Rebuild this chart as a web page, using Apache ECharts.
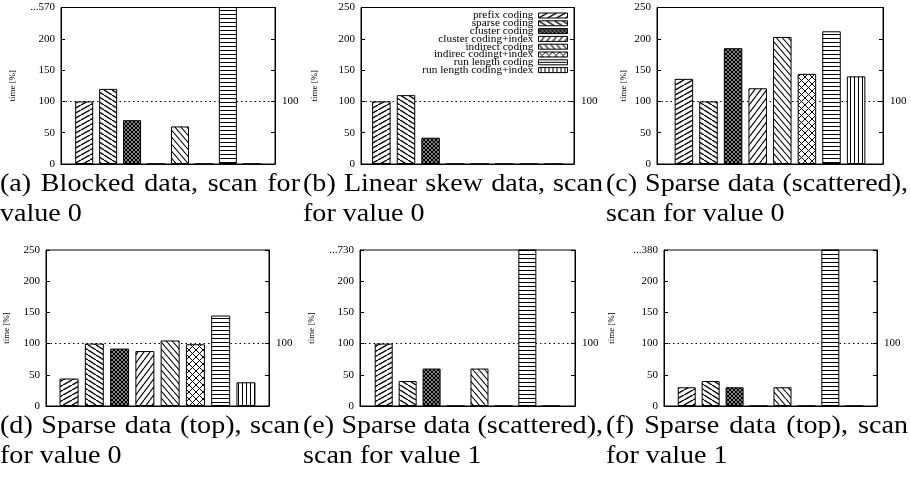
<!DOCTYPE html>
<html>
<head>
<meta charset="utf-8">
<script src="https://cdn.jsdelivr.net/npm/echarts@6/dist/echarts.min.js"></script>
<style>
  html, body { margin: 0; padding: 0; background: #fff; }
  #chart { width: 911px; height: 477px; }
</style>
</head>
<body>
<div id="chart"></div>
<script>
// series (one per coding scheme, same order in every panel)
const seriesNames = [
  'prefix coding', 'sparse coding', 'cluster coding', 'cluster coding+index',
  'indirect coding', 'indirec codingt+index', 'run length coding', 'run length coding+index'
];

// values per panel, time in % (bars above 250 are cut at the top)
const valuesA = [100, 120, 70, 0, 60, 0, 570, 0];
const valuesB = [100, 110, 42, 0, 0, 0, 0, 0];
const valuesC = [136, 100, 185, 121, 203, 144, 212, 140];
const valuesD = [44, 100, 92, 88, 105, 99, 145, 38];
const valuesE = [100, 40, 60, 0, 60, 0, 730, 0];
const valuesF = [30, 40, 30, 0, 30, 0, 380, 0];

// top tick label per panel (clipped maximum)
const topLabels = ['...570', '250', '250', '250', '...730', '...380'];
const refValue = 100;
const yMax = 250;
const yStep = 50;

const captions = [
  ['(a) Blocked data, scan for', 'value 0'],
  ['(b) Linear skew data, scan', 'for value 0'],
  ['(c) Sparse data (scattered),', 'scan for value 0'],
  ['(d) Sparse data (top), scan', 'for value 0'],
  ['(e) Sparse data (scattered),', 'scan for value 1'],
  ['(f) Sparse data (top), scan', 'for value 1']
];

const panelValues = [valuesA, valuesB, valuesC, valuesD, valuesE, valuesF];

// layout of the six plots
const layout = [
  { left: 61,  top: 7.5, width: 214, height: 156.5, barWidth: 18,   nameGap: 44 },
  { left: 361, top: 7.5, width: 213, height: 156.5, barWidth: 18.5, nameGap: 42 },
  { left: 657, top: 7.5, width: 226, height: 156.5, barWidth: 18.5, nameGap: 29 },
  { left: 46,  top: 250, width: 223, height: 156,   barWidth: 19,   nameGap: 35 },
  { left: 360, top: 250, width: 215, height: 156,   barWidth: 18,   nameGap: 44 },
  { left: 664, top: 250, width: 213, height: 156,   barWidth: 18,   nameGap: 48 }
];
const captionCols = [[0, 300], [303, 603], [606, 908]];
const captionRows = [[184, 214], [426.5, 456.5]];
const captionScaleX = 1.08;

const serif = "'Liberation Serif', 'Times New Roman', serif";

// gnuplot-like fill patterns
function makePattern(kind) {
  const c = document.createElement('canvas');
  const size = {
    slash: [9, 5], backslash: [8, 5], mesh: [4, 4], slash2: [6, 8],
    backslash2: [6, 7], cross: [7, 7], horiz: [4, 4], vert: [4, 4]
  }[kind];
  const w = size[0], h = size[1];
  c.width = w; c.height = h;
  const ctx = c.getContext('2d');
  ctx.fillStyle = '#fff';
  ctx.fillRect(0, 0, w, h);
  ctx.strokeStyle = '#000';
  ctx.lineWidth = 1;
  const up = (lw) => {
    ctx.lineWidth = lw;
    for (const dx of [-w, 0, w]) {
      ctx.beginPath(); ctx.moveTo(dx, h); ctx.lineTo(dx + w, 0); ctx.stroke();
    }
  };
  const down = (lw) => {
    ctx.lineWidth = lw;
    for (const dx of [-w, 0, w]) {
      ctx.beginPath(); ctx.moveTo(dx, 0); ctx.lineTo(dx + w, h); ctx.stroke();
    }
  };
  if (kind === 'slash') up(1.4);
  if (kind === 'backslash') down(1.4);
  if (kind === 'mesh') { up(1.4); down(1.4); }
  if (kind === 'slash2') up(1.1);
  if (kind === 'backslash2') down(1.1);
  if (kind === 'cross') { up(1); down(1); }
  if (kind === 'horiz') {
    ctx.beginPath(); ctx.moveTo(0, 2.5); ctx.lineTo(w, 2.5); ctx.stroke();
  }
  if (kind === 'vert') {
    ctx.beginPath(); ctx.moveTo(2.5, 0); ctx.lineTo(2.5, h); ctx.stroke();
  }
  return { image: c, repeat: 'repeat' };
}
const patterns = ['slash', 'backslash', 'mesh', 'slash2', 'backslash2', 'cross', 'horiz', 'vert'].map(makePattern);

// caption text, first line justified like LaTeX
const measureCtx = document.createElement('canvas').getContext('2d');
const captionFont = '26px ' + serif;
function word(text, x, y) {
  return { type: 'text', x: x, y: y, scaleX: captionScaleX,
    style: { text: text, font: captionFont, fill: '#000', verticalAlign: 'middle' } };
}
function justified(text, x0, x1, y) {
  measureCtx.font = captionFont;
  const words = text.split(' ');
  const widths = words.map(w => measureCtx.measureText(w).width * captionScaleX);
  const total = widths.reduce((a, b) => a + b, 0);
  const gap = Math.max(6, (x1 - x0 - total) / (words.length - 1));
  let x = x0;
  return words.map((w, i) => {
    const el = word(w, x, y);
    x += widths[i] + gap;
    return el;
  });
}

const graphics = [];
captions.forEach((lines, i) => {
  const col = captionCols[i % 3];
  const row = captionRows[Math.floor(i / 3)];
  graphics.push(...justified(lines[0], col[0], col[1], row[0]));
  graphics.push(word(lines[1], col[0], row[1]));
});

const axisColor = '#000';
const grids = [], xAxes = [], yAxes = [], series = [];
layout.forEach((p, i) => {
  grids.push({ left: p.left, top: p.top, width: p.width, height: p.height, show: true, borderColor: '#000', borderWidth: 1 });
  xAxes.push({
    type: 'category', gridIndex: i, data: [''],
    axisLine: { lineStyle: { color: axisColor, width: 1 } },
    axisTick: { inside: true, alignWithLabel: true, length: 3, lineStyle: { color: axisColor } },
    axisLabel: { show: false }, splitLine: { show: false }
  });
  yAxes.push({
    type: 'value', gridIndex: i, position: 'left', min: 0, max: yMax, interval: yStep,
    axisLine: { show: true, lineStyle: { color: axisColor } },
    axisTick: { show: true, inside: true, length: 4, lineStyle: { color: axisColor } },
    splitLine: { show: false },
    axisLabel: { color: '#000', fontFamily: serif, fontSize: 11, margin: 6,
      formatter: v => (v === yMax ? topLabels[i] : String(v)) },
    name: 'time [%]', nameLocation: 'middle', nameRotate: 90, nameGap: p.nameGap,
    nameTextStyle: { color: '#000', fontFamily: serif, fontSize: 9 }
  });
  yAxes.push({
    type: 'value', gridIndex: i, position: 'right', min: 0, max: yMax, interval: yStep,
    axisLine: { show: true, lineStyle: { color: axisColor } },
    axisTick: { show: true, inside: true, length: 4, lineStyle: { color: axisColor } },
    splitLine: { show: false },
    axisLabel: { color: '#000', fontFamily: serif, fontSize: 11, margin: 7,
      formatter: v => (v === refValue ? String(v) : '') }
  });
  seriesNames.forEach((name, s) => {
    const item = {
      type: 'bar', name: name, xAxisIndex: i, yAxisIndex: 2 * i,
      data: [panelValues[i][s]],
      barWidth: p.barWidth, barGap: '33%',
      itemStyle: { color: patterns[s], borderColor: '#000', borderWidth: 1 },
      emphasis: { disabled: true }, z: 3
    };
    if (s === 0) {
      item.markLine = {
        silent: true, symbol: 'none', z: 1, animation: false,
        data: [{ yAxis: refValue }],
        lineStyle: { color: '#000', type: [1.5, 3], width: 1 },
        label: { show: false }
      };
    }
    series.push(item);
  });
});

const chart = echarts.init(document.getElementById('chart'), null, { renderer: 'canvas' });
chart.setOption({
  animation: false,
  backgroundColor: '#fff',
  grid: grids,
  xAxis: xAxes,
  yAxis: yAxes,
  legend: {
    data: seriesNames, orient: 'vertical', right: 343, top: 10, align: 'right',
    icon: 'rect', itemWidth: 29, itemHeight: 5, itemGap: -3.2, padding: 0,
    selectedMode: false,
    itemStyle: { borderColor: '#000', borderWidth: 1 },
    textStyle: { color: '#000', fontFamily: serif, fontSize: 11.3 }
  },
  tooltip: { show: false },
  series: series,
  graphic: graphics
});
</script>
</body>
</html>
